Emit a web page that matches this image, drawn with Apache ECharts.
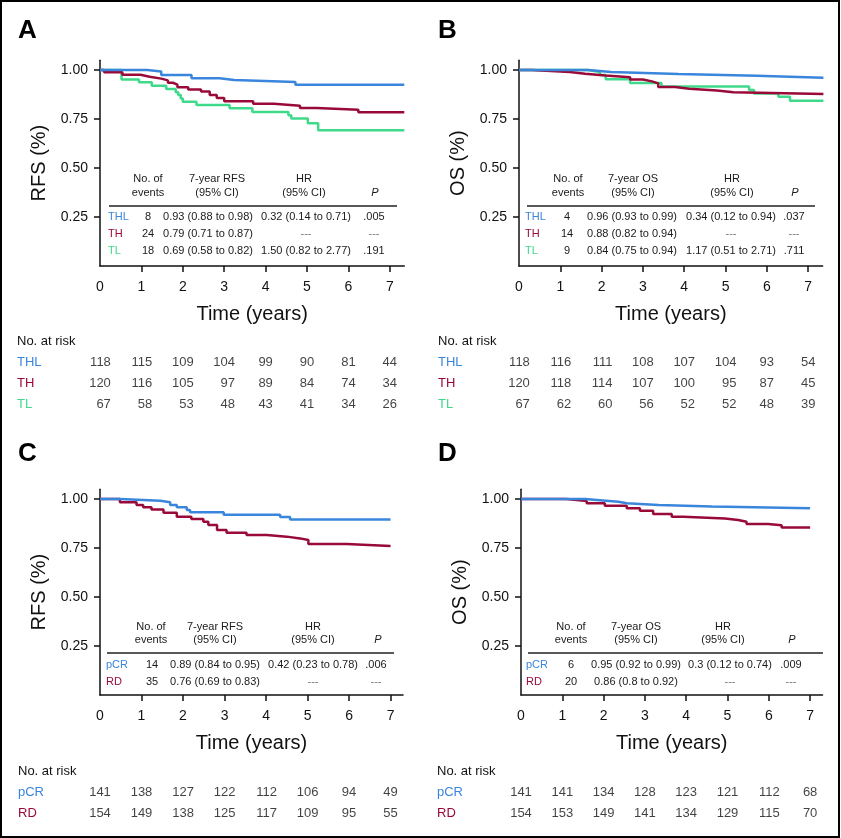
<!DOCTYPE html>
<html><head><meta charset="utf-8">
<script src="https://cdn.jsdelivr.net/npm/echarts@6/dist/echarts.min.js"></script>
<style>html,body{margin:0;padding:0;background:#fff}#c{width:841px;height:838px}</style>
</head><body><div id="c"></div>
<script>
// ---------- DATA ----------
const xTicks = [1, 2, 3, 4, 5, 6, 7];
const xLabels = [0, 1, 2, 3, 4, 5, 6, 7];
const yTicks = [0.25, 0.5, 0.75, 1.0];
const riskTimes = [0, 1, 2, 3, 4, 5, 6, 7];

// Panel A: RFS by arm
const A_THL = [[0,1],[1.14,0.992],[1.48,0.975],[2.21,0.958],[2.89,0.949],[3.24,0.939],[4.72,0.925],[7.35,0.925]];
const A_TH = [[0,1],[0.1,0.988],[0.54,0.976],[0.98,0.966],[1.2,0.956],[1.48,0.947],[1.64,0.935],[1.76,0.925],[1.87,0.912],[2.13,0.901],[2.44,0.89],[2.65,0.872],[2.82,0.857],[3.0,0.84],[3.7,0.828],[4.2,0.818],[4.83,0.806],[5.23,0.797],[6.24,0.785],[7.35,0.785]];
const A_TL = [[0,1],[0.52,0.951],[0.94,0.938],[1.25,0.92],[1.6,0.903],[1.83,0.887],[1.89,0.872],[1.95,0.855],[2.0,0.838],[2.33,0.821],[3.13,0.805],[3.68,0.786],[4.55,0.769],[4.62,0.752],[5.02,0.728],[5.27,0.692],[7.35,0.692]];
// Panel B: OS by arm
const B_THL = [[0,1],[1.67,0.99],[2.23,0.98],[3.86,0.971],[5.75,0.961],[7.37,0.961]];
const B_TH = [[0,1],[0.31,0.99],[1.23,0.981],[1.6,0.972],[2.1,0.963],[2.69,0.952],[3.0,0.942],[3.22,0.932],[3.37,0.913],[3.78,0.904],[4.12,0.895],[4.79,0.886],[5.19,0.878],[7.37,0.878]];
const B_TL = [[0,1],[1.67,0.99],[1.96,0.975],[2.1,0.953],[2.69,0.934],[3.45,0.916],[5.57,0.898],[5.69,0.88],[6.28,0.863],[6.56,0.843],[7.37,0.843]];
// Panel C: RFS by pCR
const C_pCR = [[0,1],[0.48,0.991],[1.45,0.983],[1.69,0.969],[1.85,0.958],[2.09,0.944],[2.17,0.932],[2.98,0.92],[4.34,0.908],[4.58,0.895],[7.0,0.895]];
const C_RD = [[0,1],[0.48,0.983],[0.88,0.969],[1.04,0.958],[1.24,0.947],[1.53,0.93],[1.85,0.91],[2.2,0.898],[2.49,0.884],[2.61,0.867],[2.82,0.842],[3.05,0.828],[3.53,0.816],[4.02,0.808],[4.5,0.799],[4.82,0.791],[5.02,0.77],[5.94,0.76],[7.0,0.76]];
// Panel D: OS by pCR
const D_pCR = [[0,1],[1.55,0.994],[1.91,0.986],[2.36,0.978],[2.56,0.97],[3.33,0.962],[4.62,0.953],[7.0,0.953]];
const D_RD = [[0,1],[1.1,0.99],[1.59,0.978],[2.03,0.966],[2.56,0.953],[2.88,0.94],[3.2,0.923],[3.65,0.91],[3.93,0.901],[4.94,0.893],[5.26,0.884],[5.46,0.872],[5.98,0.866],[6.31,0.855],[7.0,0.855]];

// Numbers at risk
const riskA_THL = [118,115,109,104,99,90,81,44];
const riskA_TH  = [120,116,105,97,89,84,74,34];
const riskA_TL  = [67,58,53,48,43,41,34,26];
const riskB_THL = [118,116,111,108,107,104,93,54];
const riskB_TH  = [120,118,114,107,100,95,87,45];
const riskB_TL  = [67,62,60,56,52,52,48,39];
const riskC_pCR = [141,138,127,122,112,106,94,49];
const riskC_RD  = [154,149,138,125,117,109,95,55];
const riskD_pCR = [141,141,134,128,123,121,112,68];
const riskD_RD  = [154,153,149,141,134,129,115,70];

// In-plot statistics tables: [events, 7-year estimate, HR, P]
const statsA_THL = ['8','0.93 (0.88 to 0.98)','0.32 (0.14 to 0.71)','.005'];
const statsA_TH  = ['24','0.79 (0.71 to 0.87)','---','---'];
const statsA_TL  = ['18','0.69 (0.58 to 0.82)','1.50 (0.82 to 2.77)','.191'];
const statsB_THL = ['4','0.96 (0.93 to 0.99)','0.34 (0.12 to 0.94)','.037'];
const statsB_TH  = ['14','0.88 (0.82 to 0.94)','---','---'];
const statsB_TL  = ['9','0.84 (0.75 to 0.94)','1.17 (0.51 to 2.71)','.711'];
const statsC_pCR = ['14','0.89 (0.84 to 0.95)','0.42 (0.23 to 0.78)','.006'];
const statsC_RD  = ['35','0.76 (0.69 to 0.83)','---','---'];
const statsD_pCR = ['6','0.95 (0.92 to 0.99)','0.3 (0.12 to 0.74)','.009'];
const statsD_RD  = ['20','0.86 (0.8 to 0.92)','---','---'];

const armNames = ['THL','TH','TL'];
const pcrNames = ['pCR','RD'];

// ---------- STYLE / LAYOUT ----------
const FONT = '"Liberation Sans", Arial, Helvetica, sans-serif';
const INK = '#111';
const COL = {THL:'#3a86dc', TH:'#990a38', TL:'#3fd98a', pCR:'#3a86dc', RD:'#990a38'};

const panels = [
  { letter:'A', lx:18, ly:31, yName:'RFS (%)', est:'7-year RFS',
    grid:{left:100, top:60.2, width:304.3, height:205.8}, xMax:7.35,
    risk:{top:331, rowH:21, labelX:17},
    groups:armNames, curves:[A_TL, A_TH, A_THL], curveNames:['TL','TH','THL'],
    risks:[riskA_THL, riskA_TH, riskA_TL], stats:[statsA_THL, statsA_TH, statsA_TL],
    tbl:{h1:179, h2:193, line:206, lx1:109, lx2:397, rows:[217,234,251], lab:108, ev:148, evH:148, val:208, valH:217, hr:306, hrH:304, p:374, pH:375}},
  { letter:'B', lx:438, ly:31, yName:'OS (%)', est:'7-year OS',
    grid:{left:519, top:60.2, width:303.6, height:205.8}, xMax:7.35,
    risk:{top:331, rowH:21, labelX:438},
    groups:armNames, curves:[B_TL, B_TH, B_THL], curveNames:['TL','TH','THL'],
    risks:[riskB_THL, riskB_TH, riskB_TL], stats:[statsB_THL, statsB_TH, statsB_TL],
    tbl:{h1:179, h2:193, line:206, lx1:527, lx2:815, rows:[217,234,251], lab:525, ev:567, evH:568, val:632, valH:633, hr:731, hrH:732, p:794, pH:795}},
  { letter:'C', lx:18, ly:454, yName:'RFS (%)', est:'7-year RFS',
    grid:{left:100, top:489.2, width:303, height:205.8}, xMax:7.3,
    risk:{top:760.5, rowH:21, labelX:18},
    groups:pcrNames, curves:[C_RD, C_pCR], curveNames:['RD','pCR'],
    risks:[riskC_pCR, riskC_RD], stats:[statsC_pCR, statsC_RD],
    tbl:{h1:627, h2:640, line:653, lx1:107, lx2:394, rows:[665,682], lab:106, ev:152, evH:151, val:215, valH:215, hr:313, hrH:313, p:376, pH:378}},
  { letter:'D', lx:438, ly:454, yName:'OS (%)', est:'7-year OS',
    grid:{left:521, top:489.2, width:301.5, height:205.8}, xMax:7.3,
    risk:{top:760.5, rowH:21, labelX:437},
    groups:pcrNames, curves:[D_RD, D_pCR], curveNames:['RD','pCR'],
    risks:[riskD_pCR, riskD_RD], stats:[statsD_pCR, statsD_RD],
    tbl:{h1:627, h2:640, line:653, lx1:528, lx2:823, rows:[665,682], lab:526, ev:571, evH:571, val:636, valH:636, hr:730, hrH:723, p:791, pH:792}}
];

const grids = [], xAxes = [], yAxes = [], series = [], graphics = [];

function txt(x, y, text, o) {
  o = o || {};
  return { type:'text', x:x, y:y, silent:true, style:{
    text:text, fontSize:o.size || 11, fontFamily:FONT, fill:o.color || '#1a1a1a',
    fontStyle:o.italic ? 'italic' : 'normal', fontWeight:o.bold ? 'bold' : 'normal',
    align:o.align || 'center', verticalAlign:o.va || 'middle',
    textAlign:o.align || 'center', textVerticalAlign:o.va || 'middle'} };
}

const DIGIT_W = 7.23; // approx width of a digit at 13px

panels.forEach(function (P) {
  // main plot grid
  const gi = grids.length;
  grids.push(Object.assign({containLabel:false}, P.grid));
  xAxes.push({
    type:'value', gridIndex:gi, min:0, max:P.xMax,
    axisLine:{show:true, onZero:false, lineStyle:{color:INK, width:1.5}},
    axisTick:{show:true, length:6, customValues:xTicks, lineStyle:{color:INK, width:1.5}},
    axisLabel:{customValues:xLabels, margin:14, fontSize:14, color:INK, fontFamily:FONT},
    splitLine:{show:false},
    name:'Time (years)', nameLocation:'middle', nameGap:38,
    nameTextStyle:{fontSize:20, color:INK, fontFamily:FONT}
  });
  yAxes.push({
    type:'value', gridIndex:gi, min:0, max:1.05,
    axisLine:{show:true, onZero:false, lineStyle:{color:INK, width:1.5}},
    axisTick:{show:true, length:6, customValues:yTicks, lineStyle:{color:INK, width:1.5}},
    axisLabel:{customValues:yTicks, margin:12, fontSize:14, color:INK, fontFamily:FONT,
      formatter:function (v) { return Number(v).toFixed(2); }},
    splitLine:{show:false},
    name:P.yName, nameLocation:'middle', nameGap:51,
    nameTextStyle:{fontSize:20, color:INK, fontFamily:FONT}
  });
  P.curves.forEach(function (d, k) {
    series.push({
      type:'line', xAxisIndex:gi, yAxisIndex:gi, data:d, step:'end',
      showSymbol:false, symbol:'none', silent:true, animation:false,
      lineStyle:{color:COL[P.curveNames[k]], width:2.5}
    });
  });

  // number-at-risk grid
  const ri = grids.length;
  const cats = ['No. at risk'].concat(P.groups);
  grids.push({left:P.grid.left, width:P.grid.width, top:P.risk.top, height:P.risk.rowH * cats.length});
  xAxes.push({type:'value', gridIndex:ri, min:0, max:P.xMax, show:false});
  yAxes.push({
    type:'category', gridIndex:ri, data:cats, inverse:true,
    axisLine:{show:false}, axisTick:{show:false}, splitLine:{show:false},
    axisLabel:{margin:P.grid.left - P.risk.labelX, align:'left', fontSize:13, fontFamily:FONT,
      color:function (v) { return COL[v] || INK; }}
  });
  // column offsets: right-align so the widest entry of each column is centered on its tick
  const colOff = riskTimes.map(function (t, j) {
    let m = 0;
    P.risks.forEach(function (r) { m = Math.max(m, String(r[j]).length); });
    return m * DIGIT_W / 2;
  });
  P.groups.forEach(function (g, k) {
    series.push({
      type:'scatter', xAxisIndex:ri, yAxisIndex:ri, symbolSize:0, silent:true, animation:false,
      data:riskTimes.map(function (t, j) {
        return { value:[t, g, P.risks[k][j]],
          label:{show:true, position:'inside', align:'right', offset:[colOff[j], 0]} };
      }),
      label:{show:true, fontSize:13, fontFamily:FONT, color:INK,
        formatter:function (p) { return String(p.value[2]); }}
    });
  });

  // panel letter
  graphics.push(txt(P.lx, P.ly, P.letter, {size:26, bold:true, align:'left', color:'#000'}));

  // statistics table
  const T = P.tbl;
  graphics.push(txt(T.evH, T.h1, 'No. of'));
  graphics.push(txt(T.evH, T.h2, 'events'));
  graphics.push(txt(T.valH, T.h1, P.est));
  graphics.push(txt(T.valH, T.h2, '(95% CI)'));
  graphics.push(txt(T.hrH, T.h1, 'HR'));
  graphics.push(txt(T.hrH, T.h2, '(95% CI)'));
  graphics.push(txt(T.pH, T.h2, 'P', {italic:true}));
  graphics.push({type:'line', silent:true, shape:{x1:T.lx1, y1:T.line, x2:T.lx2, y2:T.line},
    style:{stroke:'#222', lineWidth:1.3}});
  P.groups.forEach(function (g, k) {
    const s = P.stats[k], y = T.rows[k];
    graphics.push(txt(T.lab, y, g, {align:'left', color:COL[g]}));
    graphics.push(txt(T.ev, y, s[0]));
    graphics.push(txt(T.val, y, s[1]));
    graphics.push(txt(T.hr, y, s[2], s[2] === '---' ? {color:'#777'} : {}));
    graphics.push(txt(T.p, y, s[3], s[3] === '---' ? {color:'#777'} : {}));
  });
});

// outer frame
graphics.push({type:'rect', silent:true, shape:{x:1, y:1, width:838, height:836},
  style:{fill:'none', stroke:'#000', lineWidth:2}, z:100});

const chart = echarts.init(document.getElementById('c'), null, {renderer:'canvas'});
chart.setOption({
  animation:false,
  backgroundColor:'#fff',
  textStyle:{fontFamily:FONT},
  grid:grids, xAxis:xAxes, yAxis:yAxes, series:series, graphic:graphics
});
</script>
</body></html>
